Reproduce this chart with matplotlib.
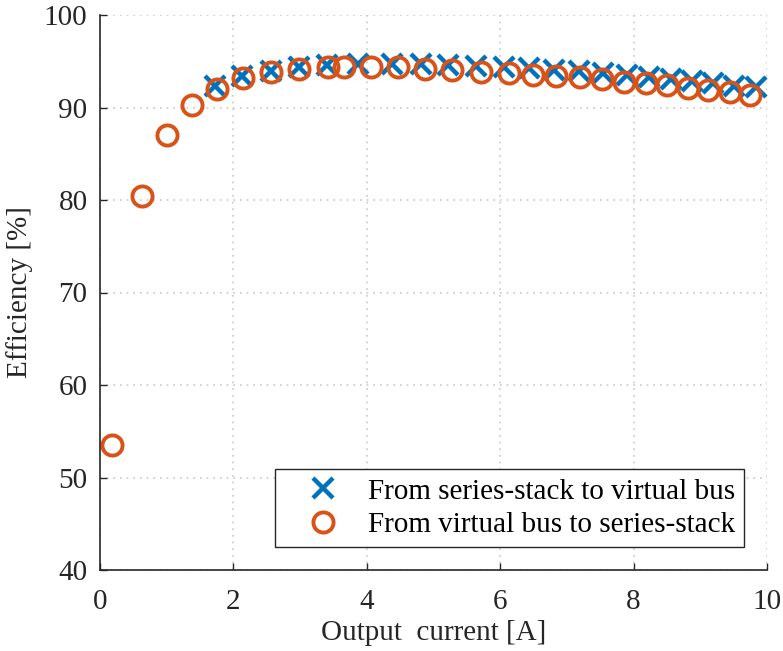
import matplotlib
matplotlib.use("Agg")
import matplotlib.pyplot as plt

# Data
x_s2v = [1.72, 2.13, 2.56, 2.98, 3.40, 3.87, 4.38, 4.81, 5.22, 5.64, 6.06,
         6.43, 6.81, 7.18, 7.54, 7.90, 8.23, 8.56, 8.87, 9.19, 9.51, 9.84]
eff_s2v = [92.35, 93.4, 94.0, 94.4, 94.6, 94.75, 94.7, 94.65, 94.6, 94.5, 94.4,
           94.25, 94.1, 93.95, 93.75, 93.5, 93.3, 93.1, 92.9, 92.6, 92.35, 92.2]

x_v2s = [0.18, 0.63, 1.00, 1.38, 1.75, 2.14, 2.56, 2.98, 3.42, 3.66, 4.06, 4.47,
         4.87, 5.28, 5.71, 6.13, 6.49, 6.84, 7.20, 7.53, 7.86, 8.19, 8.50, 8.82,
         9.12, 9.45, 9.75]
eff_v2s = [53.5, 80.4, 87.0, 90.25, 92.0, 93.2, 93.8, 94.15, 94.4, 94.35, 94.35,
           94.35, 94.15, 94.05, 93.8, 93.7, 93.55, 93.4, 93.25, 93.05, 92.8, 92.6,
           92.45, 92.1, 91.9, 91.65, 91.4]

labels = ["From series-stack to virtual bus", "From virtual bus to series-stack"]
xticks = [0, 2, 4, 6, 8, 10]
yticks = [40, 50, 60, 70, 80, 90, 100]

plt.rcParams['font.family'] = ['Liberation Serif', 'DejaVu Serif']

fig = plt.figure(figsize=(7.83, 6.51), dpi=100)
ax = fig.add_axes([100/783, 1-570/651, 667/783, 555/651])

blue = '#0072BD'
orange = '#D95319'

ax.plot(x_s2v, eff_s2v, linestyle='none', marker='x', color=blue,
        markersize=14, markeredgewidth=3.2, label=labels[0])
ax.plot(x_v2s, eff_v2s, linestyle='none', marker='o', color=orange,
        markerfacecolor='none', markersize=14.5, markeredgewidth=2.8, label=labels[1])

ax.set_xlim(0, 10)
ax.set_ylim(40, 100)
ax.set_xticks(xticks)
ax.set_yticks(yticks)
ax.tick_params(direction='in', length=5, width=1, labelsize=21, colors='#262626')
ax.tick_params(axis='x', pad=14)
ax.tick_params(axis='y', pad=9)
for s in ['top', 'right']:
    ax.spines[s].set_visible(False)
for s in ['left', 'bottom']:
    ax.spines[s].set_color('#262626')
    ax.spines[s].set_linewidth(1.2)

ax.grid(True, linestyle=(0, (1, 3)), color='#c8c8c8', linewidth=1.2)
ax.set_axisbelow(True)

ax.set_xlabel("Output  current [A]", fontsize=21, color='#262626', labelpad=3)
ax.set_ylabel("Efficiency [%]", fontsize=21, color='#262626', labelpad=8)

leg = ax.legend(loc='lower right', bbox_to_anchor=(0.9655, 0.0414),
                borderaxespad=0, fancybox=False, fontsize=21, frameon=True,
                handlelength=2.7, handletextpad=0.2, borderpad=0.3,
                labelspacing=0.25)
leg.get_frame().set_edgecolor('#262626')
leg.get_frame().set_linewidth(1.0)
leg.get_frame().set_alpha(1)

fig.savefig("out.png", dpi=100)
